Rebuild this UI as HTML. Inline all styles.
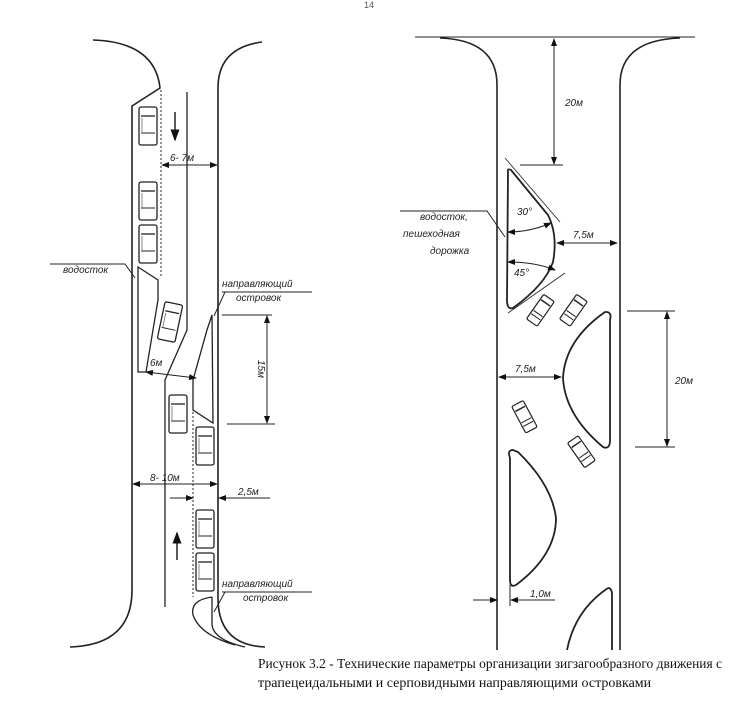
<!DOCTYPE html>
<html><head><meta charset="utf-8"><style>
body{margin:0;background:#fff;width:739px;height:701px;overflow:hidden}
svg{position:absolute;left:0;top:0}
.t{font-family:"Liberation Sans",sans-serif;font-style:italic;font-size:10px;fill:#222}
.cap{font-family:"Liberation Serif","DejaVu Serif",serif;font-size:14px;fill:#111}
</style></head><body>
<svg width="739" height="701" viewBox="0 0 739 701">
<defs>
<marker id="a" markerWidth="8" markerHeight="6" refX="7" refY="3" orient="auto-start-reverse"><path d="M0,0 L8,3 L0,6 z" fill="#111"/></marker>
<g id="car"><rect x="0" y="0" width="18" height="38" rx="2" fill="#fff" stroke="#222" stroke-width="1.3"/><line x1="2" y1="9" x2="16" y2="9" stroke="#222" stroke-width="1.3"/><line x1="2" y1="26" x2="16" y2="26" stroke="#222"/><line x1="3" y1="11" x2="3" y2="25" stroke="#555" stroke-width=".7"/></g>
<g id="car2"><rect x="0" y="0" width="13" height="30" rx="1.5" fill="#fff" stroke="#222" stroke-width="1.2"/><line x1="1" y1="6" x2="12" y2="6" stroke="#222" stroke-width="1.5"/><line x1="1" y1="19" x2="12" y2="19" stroke="#222"/><line x1="1" y1="23" x2="12" y2="23" stroke="#222"/></g>
</defs>
<text x="364" y="8" style="font-family:'Liberation Sans';font-size:9px" fill="#555">14</text>
<g fill="none" stroke="#222" stroke-width="1.6">
<path d="M93,40 Q155,42 160,88 L132,106 L132,590 Q132,645 70,647"/>
<path d="M262,42 Q218,48 218,88 L218,598 Q218,645 265,647"/>
<line x1="161" y1="90" x2="161" y2="277" stroke-dasharray="2,2" stroke-width="1"/>
<path d="M187,92 L187,330 L165,380 L165,607" stroke-width="1.3"/>
<path d="M138,267 L158,280 L158,300 L146,372 L138,372 Z" stroke-width="1.3"/>
<path d="M212,315 L207,330 L193,380 L193,410 L213,423 Z" stroke-width="1.3"/>
<line x1="193" y1="412" x2="193" y2="597" stroke-dasharray="2,2" stroke-width="1"/>
<path d="M212,597 Q190,600 193,615 Q200,635 235,645 M212,597 L212,625 Q214,640 245,647" stroke-width="1.3"/>
<line x1="415" y1="37" x2="695" y2="37" stroke-width="1"/>
<path d="M440,38 Q497,40 497,85 L497,650"/>
<path d="M680,38 Q620,40 620,85 L620,650"/>
<path d="M508,172 Q507,168 511,170 L548,215 Q558,235 553,262 Q545,285 513,308 Q507,310 507,300 Z" stroke-width="1.8"/>
<line x1="505" y1="158" x2="560" y2="222" stroke-width="0.8"/>
<line x1="508" y1="313" x2="565" y2="273" stroke-width="0.8"/>
<path d="M607,312 Q612,313 610,320 L610,440 Q610,450 603,447 Q565,415 563,378 Q565,340 605,312 Z" stroke-width="1.8"/>
<path d="M513,450 Q507,450 510,458 L510,580 Q510,588 516,585 Q556,555 556,518 Q552,485 518,452 Z" stroke-width="1.8"/>
<path d="M608,588 Q612,588 612,595 L612,650 M608,588 Q575,610 567,650" stroke-width="1.8"/>
</g>
<g stroke="#222" stroke-width="1" fill="none">
<path d="M508,232 Q530,232 551,223" marker-start="url(#a)" marker-end="url(#a)"/>
<path d="M508,262 Q535,262 555,270" marker-start="url(#a)" marker-end="url(#a)"/>
<line x1="162" y1="165" x2="217" y2="165" marker-start="url(#a)" marker-end="url(#a)"/>
<line x1="146" y1="372" x2="196" y2="378" marker-start="url(#a)" marker-end="url(#a)"/>
<line x1="222" y1="315" x2="272" y2="315"/><line x1="227" y1="424" x2="275" y2="424"/>
<line x1="267" y1="316" x2="267" y2="423" marker-start="url(#a)" marker-end="url(#a)"/>
<line x1="133" y1="484" x2="217" y2="484" marker-start="url(#a)" marker-end="url(#a)"/>
<line x1="170" y1="498" x2="193" y2="498" marker-end="url(#a)"/>
<line x1="270" y1="498" x2="219" y2="498" marker-end="url(#a)"/>
<line x1="175" y1="112" x2="175" y2="140" marker-end="url(#a)" stroke-width="1.5"/>
<line x1="177" y1="560" x2="177" y2="533" marker-end="url(#a)" stroke-width="1.5"/>
<path d="M50,264 L125,264 L135,278"/>
<path d="M222,292 L312,292 M225,292 L214,316"/>
<path d="M222,592 L312,592 M225,592 L214,612"/>
<line x1="554" y1="39" x2="554" y2="164" marker-start="url(#a)" marker-end="url(#a)"/>
<line x1="520" y1="165" x2="563" y2="165"/>
<line x1="557" y1="243" x2="617" y2="243" marker-start="url(#a)" marker-end="url(#a)"/>
<line x1="627" y1="311" x2="675" y2="311"/><line x1="635" y1="447" x2="675" y2="447"/>
<line x1="667" y1="312" x2="667" y2="446" marker-start="url(#a)" marker-end="url(#a)"/>
<line x1="499" y1="377" x2="561" y2="377" marker-start="url(#a)" marker-end="url(#a)"/>
<line x1="473" y1="600" x2="497" y2="600" marker-end="url(#a)"/>
<line x1="555" y1="600" x2="511" y2="600" marker-end="url(#a)"/>
<line x1="510" y1="585" x2="510" y2="606"/>
<path d="M400,211 L487,211 L505,237"/>
</g>
<use href="#car" x="139" y="107"/><use href="#car" x="139" y="182"/><use href="#car" x="139" y="225"/>
<use href="#car" transform="translate(170,322) rotate(12) translate(-9,-19)"/>
<use href="#car" x="169" y="395"/><use href="#car" x="196" y="427"/><use href="#car" x="196" y="510"/><use href="#car" x="196" y="553"/>
<use href="#car2" transform="translate(540,310) rotate(35) translate(-6,-15)"/>
<use href="#car2" transform="translate(573,310) rotate(35) translate(-6,-15)"/>
<use href="#car2" transform="translate(524,417) rotate(-28) translate(-6,-15)"/>
<use href="#car2" transform="translate(581,452) rotate(-35) translate(-6,-15)"/>
<text class="t" x="170" y="161">6- 7м</text>
<text class="t" x="150" y="366">6м</text>
<text class="t" transform="translate(258,360) rotate(90)">15м</text>
<text class="t" x="150" y="481">8- 10м</text>
<text class="t" x="238" y="495">2,5м</text>
<text class="t" x="63" y="273">водосток</text>
<text class="t" x="222" y="287">направляющий</text>
<text class="t" x="236" y="301">островок</text>
<text class="t" x="222" y="587">направляющий</text>
<text class="t" x="243" y="601">островок</text>
<text class="t" x="565" y="106">20м</text>
<text class="t" x="517" y="215">30°</text>
<text class="t" x="514" y="276">45°</text>
<text class="t" x="573" y="238">7,5м</text>
<text class="t" x="675" y="384">20м</text>
<text class="t" x="515" y="372">7,5м</text>
<text class="t" x="530" y="597">1,0м</text>
<text class="t" x="420" y="220">водосток,</text>
<text class="t" x="403" y="237">пешеходная</text>
<text class="t" x="430" y="254">дорожка</text>
<text class="cap" x="258" y="668" textLength="464" lengthAdjust="spacingAndGlyphs">Рисунок 3.2 - Технические параметры организации зигзагообразного движения с</text>
<text class="cap" x="258" y="687">трапецеидальными и серповидными направляющими островками</text>
</svg>
</body></html>
